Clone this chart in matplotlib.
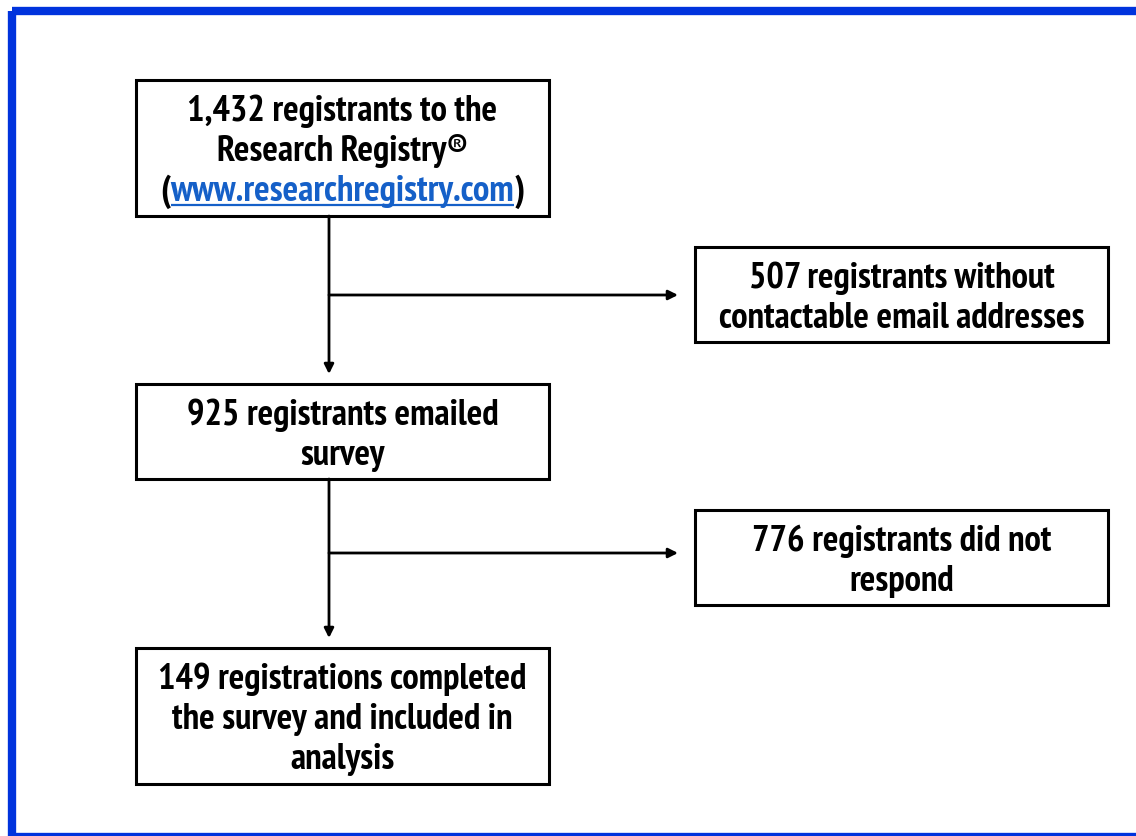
import matplotlib
matplotlib.use("Agg")
import matplotlib.pyplot as plt
from matplotlib.patches import Rectangle
from matplotlib import font_manager as fm

# box texts (main column, then side column)
MAIN_TEXT = [
    "1,432 registrants to the\nResearch Registry®\n(www.researchregistry.com)",
    "925 registrants emailed\nsurvey",
    "149 registrations completed\nthe survey and included in\nanalysis",
]
SIDE_TEXT = [
    "507 registrants without\ncontactable email addresses",
    "776 registrants did not\nrespond",
]
URL = "www.researchregistry.com"

# layout in pixels (x0, y0, x1, y1), y downwards
MAIN_BOX = [(136, 80, 549, 216), (136, 384, 549, 479), (136, 648, 549, 784)]
SIDE_BOX = [(695, 247, 1108, 342), (695, 510, 1108, 605)]
TRUNK_X = 329
BRANCH_Y = [295, 553]
LINE = 40
LINK = "#1560c8"
FIT_LINE, FIT_W = "149 registrations completed", 369   # widest line in the reference, px
MAX_PT = 26.5


def pick_font():
    # the reference uses a narrow bold grotesque; use a condensed face if one is installed
    best = None
    for f in fm.fontManager.ttflist:
        name, path = f.name.lower(), f.fname.lower()
        w = f.weight if isinstance(f.weight, int) else {"bold": 700, "heavy": 800, "black": 900}.get(f.weight, 400)
        if w < 700 or f.style != "normal" or "serif" in name or "mono" in name:
            continue
        tag = name + " " + path + " " + str(f.stretch)
        if "narrow" in tag:
            rank = 0
        elif "extra" in tag or "ultra" in tag:
            continue
        elif "semi" in tag and "condensed" in tag:
            rank = 2
        elif "condensed" in tag:
            rank = 1
        else:
            continue
        if best is None or rank < best[0]:
            best = (rank, f.fname)
    if best:
        return fm.FontProperties(fname=best[1])
    return fm.FontProperties(family=["Liberation Sans", "DejaVu Sans"], weight="bold")


fig = plt.figure(figsize=(11.36, 8.36), dpi=100)
ax = fig.add_axes([0, 0, 1, 1])
ax.set_xlim(0, 1136)
ax.set_ylim(836, 0)
ax.axis("off")
R = fig.canvas.get_renderer()

FP = pick_font()


def width(s, size):
    if not s:
        return 0.0
    t = ax.text(0, 0, s, fontproperties=FP, fontsize=size)
    w = t.get_window_extent(R).width
    t.remove()
    return w


SIZE = min(MAX_PT, 20 * FIT_W / width(FIT_LINE, 20))
CAP = 0.71 * SIZE * 100 / 72

# blue frame (right side runs off the page, bottom edge just shows)
ax.add_patch(Rectangle((12, 11), 1136, 826, fill=False, ec="#0033dd", lw=6, zorder=1))


def put(s, x, base, ha="center", color="black"):
    ax.text(x, base, s, ha=ha, va="baseline", fontproperties=FP, fontsize=SIZE, color=color, zorder=3)


def text_lines(b, txt):
    x0, y0, x1, y1 = b
    lines = txt.split("\n")
    cx, cy = (x0 + x1) / 2, (y0 + y1) / 2
    start = cy - LINE * (len(lines) - 1) / 2
    for i, ln in enumerate(lines):
        base = start + i * LINE + CAP / 2
        if URL in ln:
            pre, post = ln.split(URL)
            w_pre, w_url, w_post = width(pre, SIZE), width(URL, SIZE), width(post, SIZE)
            lx = cx - (w_pre + w_url + w_post + 1) / 2
            put(pre, lx, base, ha="left")
            put(URL, lx + w_pre + 0.5, base, ha="left", color=LINK)
            put(post, lx + w_pre + w_url + 1, base, ha="left")
            ax.plot([lx + w_pre + 0.5, lx + w_pre + w_url + 0.5], [base + 4, base + 4], color=LINK,
                    lw=1.6, solid_capstyle="butt", zorder=3)
        else:
            put(ln, cx, base)


for b, t in zip(MAIN_BOX + SIDE_BOX, MAIN_TEXT + SIDE_TEXT):
    x0, y0, x1, y1 = b
    ax.add_patch(Rectangle((x0, y0), x1 - x0, y1 - y0, fill=False, ec="black", lw=2.2, zorder=2))
    text_lines(b, t)

arrow = dict(arrowstyle="-|>", color="black", lw=2, mutation_scale=14, shrinkA=0, shrinkB=0)
for i in range(2):
    top = MAIN_BOX[i][3]
    bottom = MAIN_BOX[i + 1][1]
    ax.annotate("", xy=(TRUNK_X, bottom - 10), xytext=(TRUNK_X, top), arrowprops=arrow)
    ax.annotate("", xy=(SIDE_BOX[i][0] - 17, BRANCH_Y[i]), xytext=(TRUNK_X, BRANCH_Y[i]),
                arrowprops=arrow)

fig.savefig("out.png", dpi=100)
